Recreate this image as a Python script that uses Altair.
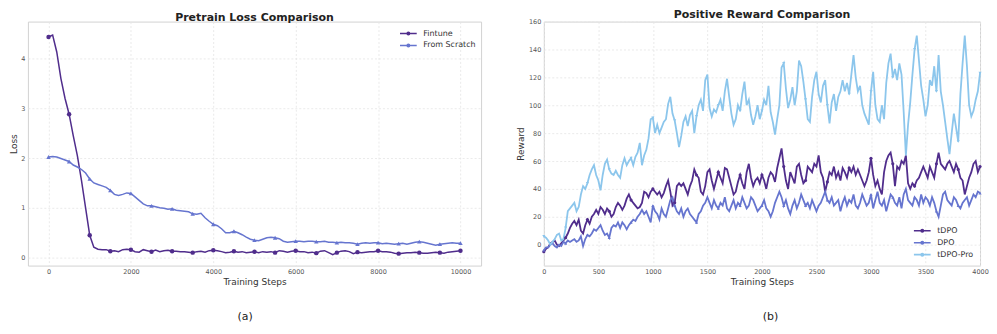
import altair as alt
import pandas as pd

# ---------------- Panel (a): Pretrain Loss Comparison ----------------
steps_a = list(range(0, 10001, 100))
fintune = [4.43, 4.47, 4.13, 3.60, 3.20, 2.88, 2.45, 2.05, 1.55, 1.00,
           0.45, 0.21, 0.17, 0.16, 0.16, 0.13, 0.14, 0.12, 0.16, 0.17,
           0.16, 0.12, 0.11, 0.16, 0.14, 0.12, 0.15, 0.12, 0.14, 0.15,
           0.13, 0.13, 0.12, 0.12, 0.11, 0.10, 0.12, 0.13, 0.11, 0.14,
           0.15, 0.14, 0.12, 0.10, 0.11, 0.13, 0.11, 0.12, 0.10, 0.11,
           0.12, 0.10, 0.12, 0.11, 0.12, 0.10, 0.14, 0.13, 0.11, 0.13,
           0.14, 0.12, 0.12, 0.10, 0.11, 0.09, 0.13, 0.14, 0.10, 0.06,
           0.10, 0.13, 0.14, 0.12, 0.08, 0.11, 0.10, 0.11, 0.12, 0.12,
           0.14, 0.12, 0.12, 0.11, 0.09, 0.08, 0.09, 0.10, 0.10, 0.11,
           0.10, 0.09, 0.09, 0.10, 0.11, 0.10, 0.09, 0.11, 0.12, 0.13,
           0.14]
from_scratch = [2.02, 2.03, 2.02, 1.99, 1.96, 1.93, 1.86, 1.82, 1.77, 1.70,
                1.58, 1.50, 1.47, 1.44, 1.41, 1.35, 1.27, 1.25, 1.27, 1.30,
                1.29, 1.22, 1.15, 1.08, 1.04, 1.04, 1.02, 1.00, 0.99, 0.97,
                0.98, 0.95, 0.94, 0.93, 0.92, 0.88, 0.87, 0.89, 0.80, 0.73,
                0.67, 0.64, 0.58, 0.50, 0.50, 0.53, 0.50, 0.46, 0.41, 0.37,
                0.35, 0.34, 0.37, 0.40, 0.41, 0.40, 0.38, 0.33, 0.31, 0.32,
                0.33, 0.33, 0.32, 0.33, 0.33, 0.32, 0.32, 0.33, 0.31, 0.31,
                0.30, 0.31, 0.30, 0.30, 0.29, 0.27, 0.29, 0.30, 0.29, 0.30,
                0.30, 0.28, 0.29, 0.28, 0.27, 0.28, 0.29, 0.27, 0.29, 0.31,
                0.32, 0.31, 0.29, 0.27, 0.25, 0.27, 0.28, 0.29, 0.30, 0.29,
                0.29]
names_a = ["Fintune", "From Scratch"]
xticks_a = [0, 2000, 4000, 6000, 8000, 10000]
yticks_a = [0, 1, 2, 3, 4]

# ---------------- Panel (b): Positive Reward Comparison ----------------
steps_b = list(range(0, 4001, 20))
tdpo = [-5, -3, -2, 1, 2, 3, 0, -1, 1, 3,
        5, 8, 12, 15, 17, 14, 18, 10, 8, 14,
        18, 15, 20, 22, 25, 22, 27, 25, 22, 26,
        24, 20, 22, 27, 30, 28, 25, 28, 33, 36,
        32, 30, 28, 26, 27, 30, 38, 37, 34, 38,
        40, 38, 36, 38, 34, 37, 42, 46, 38, 28,
        30, 42, 44, 42, 44, 40, 36, 42, 46, 54,
        50, 48, 38, 36, 42, 52, 54, 46, 40, 46,
        52, 48, 44, 55, 54, 48, 42, 36, 38, 45,
        50, 44, 40, 52, 58, 48, 42, 46, 48, 44,
        50, 46, 40, 48, 52, 50, 45, 55, 62, 69,
        56, 46, 40, 52, 48, 44, 56, 58, 50, 44,
        46, 56, 54, 52, 58, 56, 64, 52, 48, 38,
        45, 52, 50, 56, 48, 52, 46, 55, 52, 48,
        55, 52, 56, 50, 54, 50, 46, 42, 46, 52,
        62, 50, 42, 46, 40, 36, 52, 60, 64, 66,
        58, 42, 56, 54, 60, 58, 64, 44, 40, 44,
        42, 46, 48, 52, 56, 52, 48, 56, 52, 48,
        58, 66, 58, 56, 54, 58, 60, 56, 52, 58,
        54, 48, 46, 36, 42, 48, 52, 58, 60, 52,
        56]
dpo = [-4, -2, -2, 0, 1, -1, -2, 0, -1, 2,
       1, 3, 2, 3, 4, 2, 3, 6, -1, 4,
       7, 6, 8, 11, 10, 12, 14, 10, 7, 8,
       5, 12, 14, 13, 16, 12, 16, 14, 11, 14,
       16, 18, 17, 20, 22, 25, 22, 24, 20, 16,
       28, 24, 22, 18, 26, 22, 20, 26, 32, 34,
       28, 24, 22, 26, 20, 24, 26, 22, 20, 18,
       16, 22, 24, 28, 30, 34, 30, 26, 32, 28,
       26, 30, 28, 34, 26, 24, 28, 32, 26, 30,
       28, 34, 30, 26, 28, 34, 32, 28, 24, 26,
       28, 32, 26, 24, 20, 24, 30, 34, 38, 34,
       28, 32, 26, 22, 28, 32, 26, 30, 36, 32,
       28, 30, 26, 32, 28, 24, 28, 30, 34, 38,
       32, 30, 34, 28, 30, 32, 24, 30, 34, 28,
       32, 30, 36, 28, 26, 30, 36, 32, 28, 30,
       36, 26, 32, 38, 30, 28, 32, 24, 30, 36,
       34, 30, 28, 34, 26, 36, 40, 32, 30, 28,
       34, 32, 28, 36, 30, 34, 32, 28, 34, 30,
       24, 20, 28, 36, 38, 32, 30, 28, 34, 32,
       28, 26, 30, 32, 34, 28, 32, 36, 34, 38,
       37]
tdpo_pro = [6, 5, 3, 0, 2, 4, 7, 8, 3, 4,
            12, 24, 26, 28, 30, 24, 27, 36, 42, 40,
            44, 50, 54, 57, 50, 46, 39, 50, 58, 61,
            54, 51, 50, 53, 50, 48, 57, 62, 57, 60,
            62, 57, 63, 66, 73, 57, 64, 68, 76, 90,
            91, 80, 86, 80, 84, 88, 90, 101, 106, 94,
            89, 80, 70, 78, 88, 92, 85, 93, 96, 80,
            92, 100, 104, 96, 118, 122, 98, 92, 97, 95,
            100, 104, 96, 110, 119, 106, 94, 86, 90, 100,
            96, 108, 117, 100, 104, 93, 86, 92, 100, 90,
            96, 104, 100, 114, 95, 88, 79, 90, 100, 127,
            130, 112, 98, 104, 113, 100, 110, 132, 128, 117,
            104, 90, 88, 106, 118, 124, 108, 102, 114, 118,
            100, 87, 102, 108, 96, 106, 110, 118, 110, 116,
            108, 122, 136, 120, 110, 114, 100, 94, 90, 86,
            110, 124, 100, 90, 88, 100, 90, 116, 130, 137,
            120, 126, 118, 130, 122, 95, 64, 86, 102, 122,
            140, 150, 132, 114, 104, 92, 100, 118, 114, 128,
            110, 136, 110, 100, 88, 76, 65, 80, 94, 84,
            74, 108, 130, 150, 128, 100, 92, 96, 104, 110,
            123]
names_b = ["tDPO", "DPO", "tDPO-Pro"]
xticks_b = [0, 500, 1000, 1500, 2000, 2500, 3000, 3500, 4000]
yticks_b = [0, 20, 40, 60, 80, 100, 120, 140, 160]

# ---------------- styling ----------------
DARK = "#502D8C"
MID = "#6675CF"
LIGHT = "#8CC6EC"
FONT = "DejaVu Sans"

# legend symbol: a line segment with a small marker in its middle
LEG_SYMBOL = "M-1.4,0L1.4,0M-0.2,0A0.2,0.2,0,1,0,0.2,0A0.2,0.2,0,1,0,-0.2,0Z"

df_a = pd.DataFrame({
    "step": steps_a * 2,
    "value": fintune + from_scratch,
    "series": [names_a[0]] * len(steps_a) + [names_a[1]] * len(steps_a),
})
df_b = pd.DataFrame({
    "step": steps_b * 3,
    "value": tdpo + dpo + tdpo_pro,
    "series": [names_b[0]] * len(steps_b) + [names_b[1]] * len(steps_b)
              + [names_b[2]] * len(steps_b),
})


def make_panel(df, names, colors, marker_shapes, xdom, xvals,
               ydom, yvals, ytitle, title, w, h, legend_orient, legend_offset,
               every, line_w, msize):
    x = alt.X("step:Q", scale=alt.Scale(domain=xdom, nice=False, zero=False),
              axis=alt.Axis(values=xvals, title="Training Steps", format="d"))
    y = alt.Y("value:Q", scale=alt.Scale(domain=ydom, nice=False, zero=False),
              axis=alt.Axis(values=yvals, title=ytitle, format="d"))
    leg = alt.Legend(title=None, orient=legend_orient, offset=legend_offset,
                     labelFont=FONT, labelFontSize=8, labelColor="#333333",
                     symbolType=LEG_SYMBOL, symbolSize=144,
                     symbolStrokeWidth=1.6, labelOffset=8, rowPadding=0)
    lines = alt.Chart(df).mark_line(strokeWidth=line_w).encode(
        x=x, y=y,
        color=alt.Color("series:N", scale=alt.Scale(domain=names, range=colors),
                        legend=leg),
    )
    layers = [lines]
    for nm, col, shp in zip(names, colors, marker_shapes):
        layers.append(
            alt.Chart(df)
            .transform_filter(f"datum.series == '{nm}' && datum.step % {every} == 0")
            .mark_point(shape=shp, filled=True, size=msize, color=col, opacity=1)
            .encode(x=x, y=y)
        )
    return alt.layer(*layers).properties(
        width=w, height=h,
        title=alt.Title(title, font=FONT, fontSize=11, fontWeight="bold",
                        color="#222222", offset=-1.5, anchor="middle", frame="group"),
    )


panel_a = make_panel(
    df_a, names_a, [DARK, MID], ["circle", "triangle-up"],
    [-500, 10500], xticks_a, [-0.16, 4.74], yticks_a,
    "Loss", "Pretrain Loss Comparison", 455, 245, "top-right", 5, 500, 1.5, 20)

panel_b = make_panel(
    df_b, names_b, [DARK, MID, LIGHT], ["circle", "triangle-up", "triangle-down"],
    [0, 4000], xticks_b, [-15, 160], yticks_b,
    "Reward", "Positive Reward Comparison", 438, 245, "bottom-right", 6, 200, 1.8, 10)


def wrap(panel, label, dx):
    return alt.vconcat(panel).properties(
        title=alt.Title(label, orient="bottom", font=FONT, fontSize=11,
                        fontWeight="normal", color="#222222", offset=24,
                        anchor="middle", frame="bounds", dx=dx)
    ).resolve_scale(color="independent").resolve_legend(color="independent")


chart = (
    alt.hconcat(wrap(panel_a, "(a)", 0), wrap(panel_b, "(b)", 18), spacing=34)
    .resolve_scale(color="independent")
    .resolve_legend(color="independent")
    .properties(padding=0)
    .configure(font=FONT)
    .configure_view(stroke="#d2d2d2", strokeWidth=1)
    .configure_axis(domain=False, ticks=False, grid=True, gridColor="#e4e4e4",
                    gridDash=[2, 2], gridWidth=0.8, labelFont=FONT,
                    labelFontSize=6.5, labelColor="#555555", titleFont=FONT,
                    titleFontSize=9, titleFontWeight="normal",
                    titleColor="#333333", labelFlush=False)
    .configure_axisX(labelPadding=2.5, titlePadding=3)
    .configure_axisY(labelPadding=3, titlePadding=2.5)
)

chart.save("out.html", embed_options={"renderer": "svg", "actions": False})
